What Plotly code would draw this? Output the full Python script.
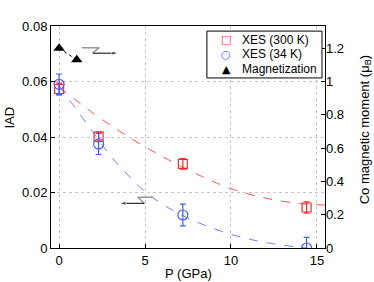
import plotly.graph_objects as go

# --- data ---
pressure = [0.0, 2.3, 7.2, 14.4]
iad_300K = [0.0573, 0.0401, 0.0303, 0.0146]
err_300K = [0.0021, 0.0018, 0.0019, 0.0020]
iad_34K = [0.0590, 0.0375, 0.0119, 0.0000]
err_34K = [0.0037, 0.0038, 0.0039, 0.0038]

mag_pressure = [0.0, 1.03]
mag_moment = [1.20, 1.13]

fit300_p = [0.0, 2.0, 4.0, 6.0, 8.0, 10.0, 12.0, 14.0, 15.5]
fit300_v = [0.0580, 0.0485, 0.0402, 0.0330, 0.0267, 0.0214, 0.0180, 0.0160, 0.0155]
fit34_p = [0.0, 1.0, 2.0, 3.0, 4.0, 5.0, 6.0, 7.0, 8.0, 10.0, 12.0, 14.4]
fit34_v = [0.0585, 0.0500, 0.0415, 0.0332, 0.0263, 0.0202, 0.0158, 0.0123, 0.0094, 0.0049, 0.0020, 0.0000]

legend_labels = ["XES (300 K)", "XES (34 K)", "Magnetization"]
legend_glyphs = ["□", "○", "▲"]

# axis-indicator arrows (data coordinates of left axis)
arrow_right = dict(gray_x=[1.32, 2.34, 1.96], gray_y=[0.0722, 0.0722, 0.0703],
                   x=[1.96, 3.45], y=[0.0702, 0.0702])
arrow_left = dict(gray_x=[5.48, 4.58, 4.96], gray_y=[0.0183, 0.0183, 0.0161],
                  x=[4.96, 3.50], y=[0.0161, 0.0161])

x_ticks = [0, 5, 10, 15]
y_ticks = [0, 0.02, 0.04, 0.06, 0.08]
y_tick_text = ["0", "0.02", "0.04", "0.06", "0.08"]
y2_ticks = [0, 0.2, 0.4, 0.6, 0.8, 1.0, 1.2]
y2_tick_text = ["0", "0.2", "0.4", "0.6", "0.8", "1", "1.2"]

RED = "#ff2a2a"
BLUE = "#4060ff"
legend_colors = [RED, BLUE, "black"]

fig = go.Figure()

fig.add_trace(go.Scatter(x=fit300_p, y=fit300_v, mode="lines", line=dict(color="#ff5555", width=1, dash="dash", shape="spline"),
                         showlegend=False, hoverinfo="skip"))
fig.add_trace(go.Scatter(x=fit34_p, y=fit34_v, mode="lines", line=dict(color="#6a84ff", width=1, dash="dash", shape="spline"),
                         showlegend=False, hoverinfo="skip"))
fig.add_trace(go.Scatter(x=mag_pressure, y=mag_moment, mode="lines", yaxis="y2",
                         line=dict(color="black", width=1, dash="dot"), showlegend=False, hoverinfo="skip"))

fig.add_trace(go.Scatter(x=pressure, y=iad_300K, mode="markers", name=legend_labels[0], showlegend=False,
                         marker=dict(symbol="square-open", size=9, color=RED, line=dict(width=1.2)),
                         error_y=dict(type="data", array=err_300K, color=RED, thickness=1.2, width=3)))
fig.add_trace(go.Scatter(x=pressure, y=iad_34K, mode="markers", name=legend_labels[1], showlegend=False,
                         marker=dict(symbol="circle-open", size=10, color=BLUE, line=dict(width=1.2)),
                         error_y=dict(type="data", array=err_34K, color=BLUE, thickness=1.2, width=3)))
fig.add_trace(go.Scatter(x=mag_pressure, y=mag_moment, mode="markers", name=legend_labels[2], yaxis="y2", showlegend=False,
                         marker=dict(symbol="triangle-up", size=10, color="black")))

# arrows
for a in (arrow_right, arrow_left):
    fig.add_trace(go.Scatter(x=a["gray_x"], y=a["gray_y"], mode="lines", line=dict(color="#999999", width=1.5),
                             showlegend=False, hoverinfo="skip"))
    fig.add_trace(go.Scatter(x=a["x"], y=a["y"], mode="lines+markers", line=dict(color="black", width=1),
                             marker=dict(symbol="arrow", size=[0, 7], angleref="previous", color="black"),
                             showlegend=False, hoverinfo="skip"))

font = "Liberation Sans, Arial, sans-serif"
annotations = [
    dict(text="IAD", xref="paper", yref="paper", x=-0.153, y=0.588, xanchor="center", yanchor="middle",
         textangle=-90, showarrow=False, font=dict(size=13)),
    dict(text="P (GPa)", xref="paper", yref="paper", x=0.5, y=-0.113, xanchor="center", yanchor="middle",
         showarrow=False, font=dict(size=13)),
    dict(text="Co magnetic moment (μ<sub>B</sub>)", xref="paper", yref="paper", x=1.146, y=0.53,
         xanchor="center", yanchor="middle", textangle=-90, showarrow=False, font=dict(size=13)),
]
# custom legend (box + glyphs + labels)
row_y = [0.937, 0.872, 0.806]
for lab, gl, col, ry in zip(legend_labels, legend_glyphs, legend_colors, row_y):
    annotations.append(dict(text=gl, xref="paper", yref="paper", x=0.639, y=ry, xanchor="center", yanchor="middle",
                            showarrow=False, font=dict(family="DejaVu Sans", size=11, color=col)))
    annotations.append(dict(text=lab, xref="paper", yref="paper", x=0.69, y=ry, xanchor="left", yanchor="middle",
                            showarrow=False, font=dict(size=12, color="black")))

axis_common = dict(ticks="inside", ticklen=4, tickcolor="black", automargin=False, zeroline=False)
fig.update_layout(
    width=374, height=282,
    margin=dict(l=51, r=49, t=26, b=34),
    paper_bgcolor="white", plot_bgcolor="white",
    font=dict(family=font, size=13, color="black"),
    xaxis=dict(range=[-0.47, 15.47], tickvals=x_ticks, showline=True, linecolor="black", linewidth=1, mirror=True,
               showgrid=True, gridcolor="#c8c8c8", griddash="dot", gridwidth=1, **axis_common),
    yaxis=dict(range=[0, 0.08], tickvals=y_ticks, ticktext=y_tick_text,
               showline=True, linecolor="black", linewidth=1, mirror=True,
               showgrid=True, gridcolor="#c8c8c8", griddash="dot", gridwidth=1, **axis_common),
    yaxis2=dict(range=[0, 1.3333], overlaying="y", side="right", tickvals=y2_ticks, ticktext=y2_tick_text,
                showgrid=False, **axis_common),
    showlegend=False,
    shapes=[dict(type="rect", xref="paper", yref="paper", x0=0.569, x1=0.989, y0=0.766, y1=0.977,
                 fillcolor="white", line=dict(color="black", width=1), layer="above")],
    annotations=annotations,
)

fig.write_html("out.html", config={"displayModeBar": False},
               post_script="document.body.style.margin='0px';document.body.style.overflow='hidden';")
